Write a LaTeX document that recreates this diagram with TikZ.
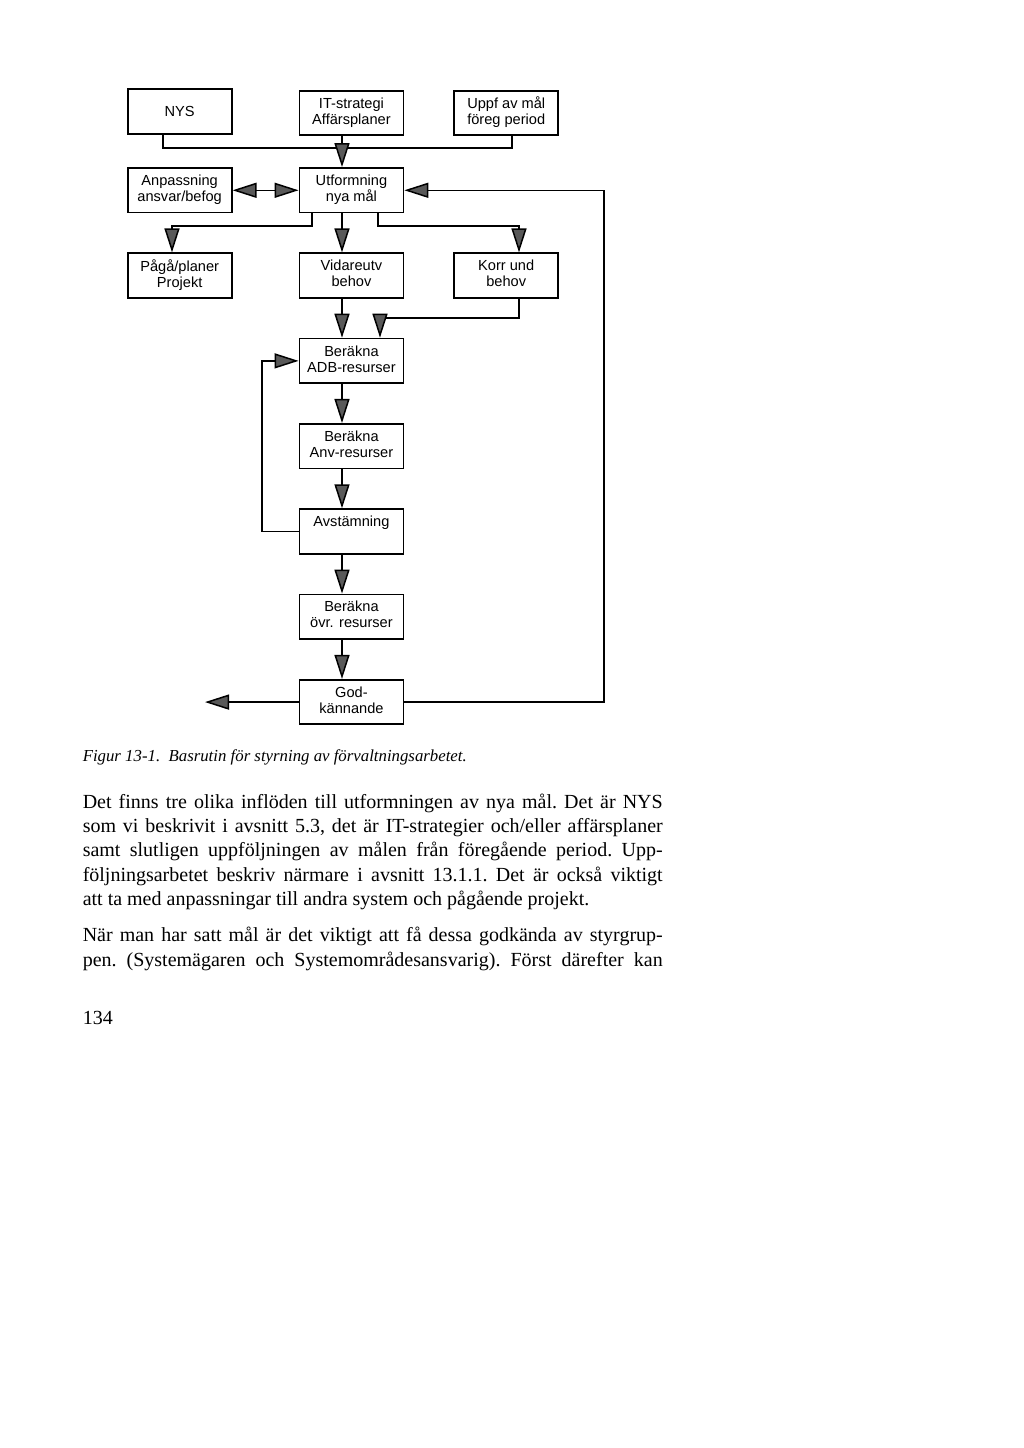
\documentclass[tikz,border=0pt]{standalone}
\usepackage{fontspec}
\setmainfont{Liberation Serif}
\newfontfamily\boxfont{Liberation Sans}
\usetikzlibrary{matrix,arrows.meta}

\definecolor{tipgray}{gray}{0.35}
\newcommand\twolines[2]{\begin{tabular}{@{}c@{}}#1\\#2\end{tabular}}

\begin{document}
\begin{tikzpicture}[x=0.5pt,y=-0.5pt,
    >={Triangle[length=12pt,width=7.5pt,fill=tipgray]},
    line width=0.75pt,
    box/.style={draw,fill=white,line width=0.9pt,
      minimum width=52pt,minimum height=22.3pt,inner sep=2pt,
      font=\boxfont\fontsize{7.3}{8}\selectfont}]
    \fill[white] (0,0) rectangle (1024,1448);
    \useasboundingbox (0,0) rectangle (1024,1448);

    \matrix [%
      matrix of nodes,
      nodes={box},
      column sep=24.5pt,
      row sep=19.45pt,
      inner sep=0pt,
      matrix anchor=north west
    ] (flow) at (126,87.5) {%
      NYS &[8.5pt] \twolines{IT-strategi}{Affärsplaner} & \twolines{Uppf av mål}{föreg period} \\[-4pt]
      \twolines{Anpassning}{ansvar/befog} & \twolines{Utformning}{nya mål} & \\
      \twolines{Pågå/planer}{Projekt} & \twolines{Vidareutv}{behov} & \twolines{Korr und}{behov} \\
      & \twolines{Beräkna}{ADB-resurser} & \\
      & \twolines{Beräkna}{Anv-resurser} & \\
      & \twolines{Avstämning}{\mbox{}} & \\
      & \twolines{Beräkna}{övr. resurser} & \\
      & \twolines{God-}{kännande} & \\
    };

    % corner points of the connectors
    \coordinate (axis)      at (342,0);
    \coordinate (bus)       at (0,148);
    \coordinate (nysdrop)   at (163,0);
    \coordinate (uppfdrop)  at (512,0);
    \coordinate (split)     at (0,226);
    \coordinate (pagadrop)  at (172,0);
    \coordinate (leftdrop)  at (312,0);
    \coordinate (rightdrop) at (378,0);
    \coordinate (korrdrop)  at (519,0);
    \coordinate (merge)     at (0,318);
    \coordinate (adbin)     at (380,0);
    \coordinate (loop)      at (262,0);
    \coordinate (back)      at (604,0);
    \coordinate (out)       at (205,0);

    % inflow to Utformning
    \draw (flow-1-1.south -| nysdrop) |- (bus -| uppfdrop) -- (flow-1-3.south -| uppfdrop);
    \draw[->] (flow-1-2.south -| axis) -- (flow-2-2.north -| axis);
    \draw[<->] (flow-2-1) -- (flow-2-2);

    % outflow from Utformning
    \draw[->] (flow-2-2.south -| leftdrop) |- (split -| pagadrop) -- (flow-3-1.north -| pagadrop);
    \draw[->] (flow-2-2.south -| axis) -- (flow-3-2.north -| axis);
    \draw[->] (flow-2-2.south -| rightdrop) |- (split -| korrdrop) -- (flow-3-3.north -| korrdrop);
    \draw[->] (flow-3-3.south -| korrdrop) |- (merge -| adbin) -- (flow-4-2.north -| adbin);
    \draw[->] (flow-3-2.south -| axis) -- (flow-4-2.north -| axis);

    \foreach \a/\b in {4/5,5/6,6/7,7/8} {\draw[->] (flow-\a-2.south -| axis) -- (flow-\b-2.north -| axis);};

    % loop back and feedback
    \draw[->] (flow-6-2.west) -| (loop |- flow-4-2.west) -- (flow-4-2.west);
    \draw[->] (flow-8-2.east) -| (back |- flow-2-2.east) -- (flow-2-2.east);
    \draw[->] (flow-8-2.west) -- (out |- flow-8-2.west);

    % caption and page text
    \node[anchor=base west,inner sep=0pt,font=\itshape\fontsize{8.4}{10}\selectfont] (caption)
      at (82,761) {Figur 13-1.\ \ Basrutin för styrning av förvaltningsarbetet.};
    \node[anchor=north west,inner sep=0pt,text width=290pt,align=justify,
      font=\fontsize{10}{12.15}\selectfont] (body) at (82,793) {%
      \parindent=0pt\frenchspacing
      Det finns tre olika inflöden till utformningen av nya mål. Det är NYS\linebreak
      som vi beskrivit i avsnitt 5.3, det är IT-strategier och/eller affärsplaner\linebreak
      samt slutligen uppföljningen av målen från föregående period. Upp-\linebreak
      följningsarbetet beskriv närmare i avsnitt 13.1.1. Det är också viktigt\linebreak
      att ta med anpassningar till andra system och pågående projekt.\par
      \vspace{6pt}
      {\parfillskip=0pt
      När man har satt mål är det viktigt att få dessa godkända av styrgrup-\linebreak
      pen. (Systemägaren och Systemområdesansvarig). Först därefter kan\par}};
    \node[anchor=base west,inner sep=0pt,font=\fontsize{10}{12}\selectfont] (page)
      at (82,1024) {134};
  \end{tikzpicture}
\end{document}
